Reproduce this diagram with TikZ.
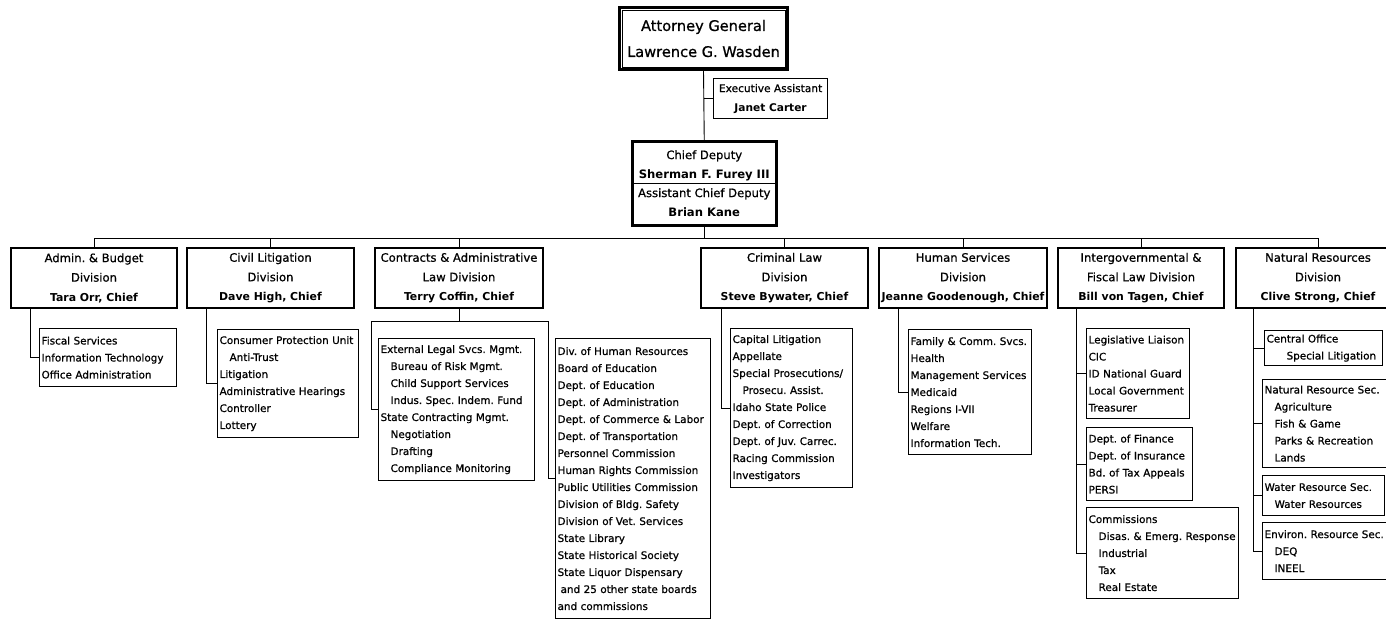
\documentclass[tikz,border=0pt]{standalone}
\usepackage{fontspec}
\setmainfont{DejaVu Sans}[UprightFeatures={FakeBold=0.8}]
\frenchspacing

\tikzset{
  headbox/.style={draw, line width=3pt, align=center, anchor=north west, inner sep=2pt},
  divbox/.style={draw, line width=2pt, align=center, anchor=north west, inner sep=2pt, minimum width=#1, minimum height=60pt, font=\fontsize{11.6}{19.5}\selectfont},
  subbox/.style 2 args={draw, line width=1.2pt, anchor=north west, inner xsep=2pt, inner ysep=2pt, text width=#1, minimum height=#2, align=left, font=\fontsize{10.4}{17}\selectfont},
  link/.style={line width=0.9pt},
}
\newcommand{\ind}{\hspace*{10pt}}
\newcommand{\chief}[1]{{\fontsize{10.9}{19.5}\selectfont\bfseries #1}}

\begin{document}
\begin{tikzpicture}[x=1pt, y=-1pt]
  \useasboundingbox (0,0) rectangle (1386,619);
  \clip (0,0) rectangle (1386,619);

  % top of the office
  \node[headbox, minimum width=168pt, minimum height=62pt, font=\fontsize{14.6}{26}\selectfont] (ag) at (618,6) {Attorney General\\Lawrence G. Wasden};
  \draw[line width=0.8pt] ([shift={(4,4)}]ag.north west) rectangle ([shift={(-4,-4)}]ag.south east);
  \node[draw, line width=1.2pt, anchor=north west, minimum width=114pt, minimum height=40pt, align=center, font=\fontsize{10.6}{19}\selectfont] (ea) at (713,78) {Executive Assistant\\\textbf{Janet Carter}};
  \node[headbox, line width=2.5pt, minimum width=144pt, minimum height=84pt, font=\fontsize{11.6}{19}\selectfont] (cd) at (631,140) {Chief Deputy\\\textbf{Sherman F. Furey III}\\Assistant Chief Deputy\\\textbf{Brian Kane}};
  \draw[line width=1pt] (cd.west) -- (cd.east);

  \draw[link] (ag.south) -- (cd.north);
  \draw[link] (ag.south |- ea.west) -- (ea.west);

  % divisions
  \node[divbox=166pt] (adm) at (10,247) {Admin. \& Budget\\Division\\\chief{Tara Orr, Chief}};
  \node[divbox=167pt] (civ) at (186,247) {Civil Litigation\\Division\\\chief{Dave High, Chief}};
  \node[divbox=168pt] (con) at (374,247) {Contracts \& Administrative\\Law Division\\\chief{Terry Coffin, Chief}};
  \node[divbox=167pt] (cri) at (700,247) {Criminal Law\\Division\\\chief{Steve Bywater, Chief}};
  \node[divbox=168pt] (hum) at (878,247) {Human Services\\Division\\\chief{Jeanne Goodenough, Chief}};
  \node[divbox=166pt] (igv) at (1057,247) {Intergovernmental \&\\Fiscal Law Division\\\chief{Bill von Tagen, Chief}};
  \node[divbox=164pt] (nat) at (1235,247) {Natural Resources\\Division\\\chief{Clive Strong, Chief}};

  \draw[link] (cd.south) -- ++(0,12) coordinate (bus);
  \foreach \d in {adm,civ,con,cri,hum,igv,nat}
    \draw[link] (bus) -| (\d.north);

  % sections
  \node[subbox={133pt}{58pt}] (fis) at (39,328) {Fiscal Services\\Information Technology\\Office Administration};
  \node[subbox={137pt}{108pt}] (cvs) at (217,329) {\mbox{Consumer Protection Unit}\\\ind Anti-Trust\\Litigation\\Administrative Hearings\\Controller\\Lottery};
  \node[subbox={152pt}{142pt}] (ext) at (378,338) {External Legal Svcs. Mgmt.\\\ind Bureau of Risk Mgmt.\\\ind Child Support Services\\\ind \mbox{Indus. Spec. Indem. Fund}\\State Contracting Mgmt.\\\ind Negotiation\\\ind Drafting\\\ind Compliance Monitoring};
  \node[subbox={151pt}{280pt}] (dhr) at (555,338) {Div. of Human Resources\\Board of Education\\Dept. of Education\\Dept. of Administration\\\mbox{Dept. of Commerce \& Labor}\\Dept. of Transportation\\Personnel Commission\\Human Rights Commission\\Public Utilities Commission\\Division of Bldg. Safety\\Division of Vet. Services\\State Library\\State Historical Society\\State Liquor Dispensary\\\hspace*{3pt}and 25 other state boards\\and commissions};
  \node[subbox={118pt}{159pt}] (crs) at (730,328) {Capital Litigation\\Appellate\\Special Prosecutions/\\\ind Prosecu. Assist.\\Idaho State Police\\Dept. of Correction\\Dept. of Juv. Carrec.\\Racing Commission\\Investigators};
  \node[subbox={119pt}{125pt}] (hus) at (908,329) {Family \& Comm. Svcs.\\Health\\Management Services\\Medicaid\\Regions I-VII\\Welfare\\Information Tech.};
  \node[subbox={99pt}{90pt}] (leg) at (1086,328) {Legislative Liaison\\CIC\\ID National Guard\\Local Government\\Treasurer};
  \node[subbox={102pt}{73pt}] (fin) at (1086,427) {Dept. of Finance\\Dept. of Insurance\\Bd. of Tax Appeals\\PERSI};
  \node[subbox={148pt}{91pt}] (com) at (1086,507) {Commissions\\\ind \mbox{Disas. \& Emerg. Response}\\\ind Industrial\\\ind Tax\\\ind Real Estate};
  \node[subbox={114pt}{35pt}] (cen) at (1264,330) {Central Office\\\hspace*{20pt}\mbox{Special Litigation}};
  \node[subbox={126pt}{88pt}] (nrs) at (1262,379) {Natural Resource Sec.\\\ind Agriculture\\\ind Fish \& Game\\\ind Parks \& Recreation\\\ind Lands};
  \node[subbox={118pt}{40pt}] (wat) at (1262,475) {Water Resource Sec.\\\ind Water Resources};
  \node[subbox={126pt}{57pt}] (env) at (1262,522) {Environ. Resource Sec.\\\ind DEQ\\\ind INEEL};

  \draw[link] ([xshift=20pt]adm.south west) |- (fis.west);
  \draw[link] ([xshift=20pt]civ.south west) |- (cvs.west);
  \draw[link] (con.south) -- ++(0,12) coordinate (conj);
  \draw[link] (conj) -- ++(-88,0) |- (ext.west);
  \draw[link] (conj) -- ++(89,0) |- (dhr.west);
  \draw[link] ([xshift=21pt]cri.south west) |- (crs.west);
  \draw[link] ([xshift=20pt]hum.south west) |- (hus.west);
  \foreach \s in {leg,fin,com}
    \draw[link] ([xshift=19pt]igv.south west) |- (\s.west);
  \foreach \s in {cen,nrs,wat,env}
    \draw[link] ([xshift=18pt]nat.south west) |- (\s.west);
\end{tikzpicture}
\end{document}
